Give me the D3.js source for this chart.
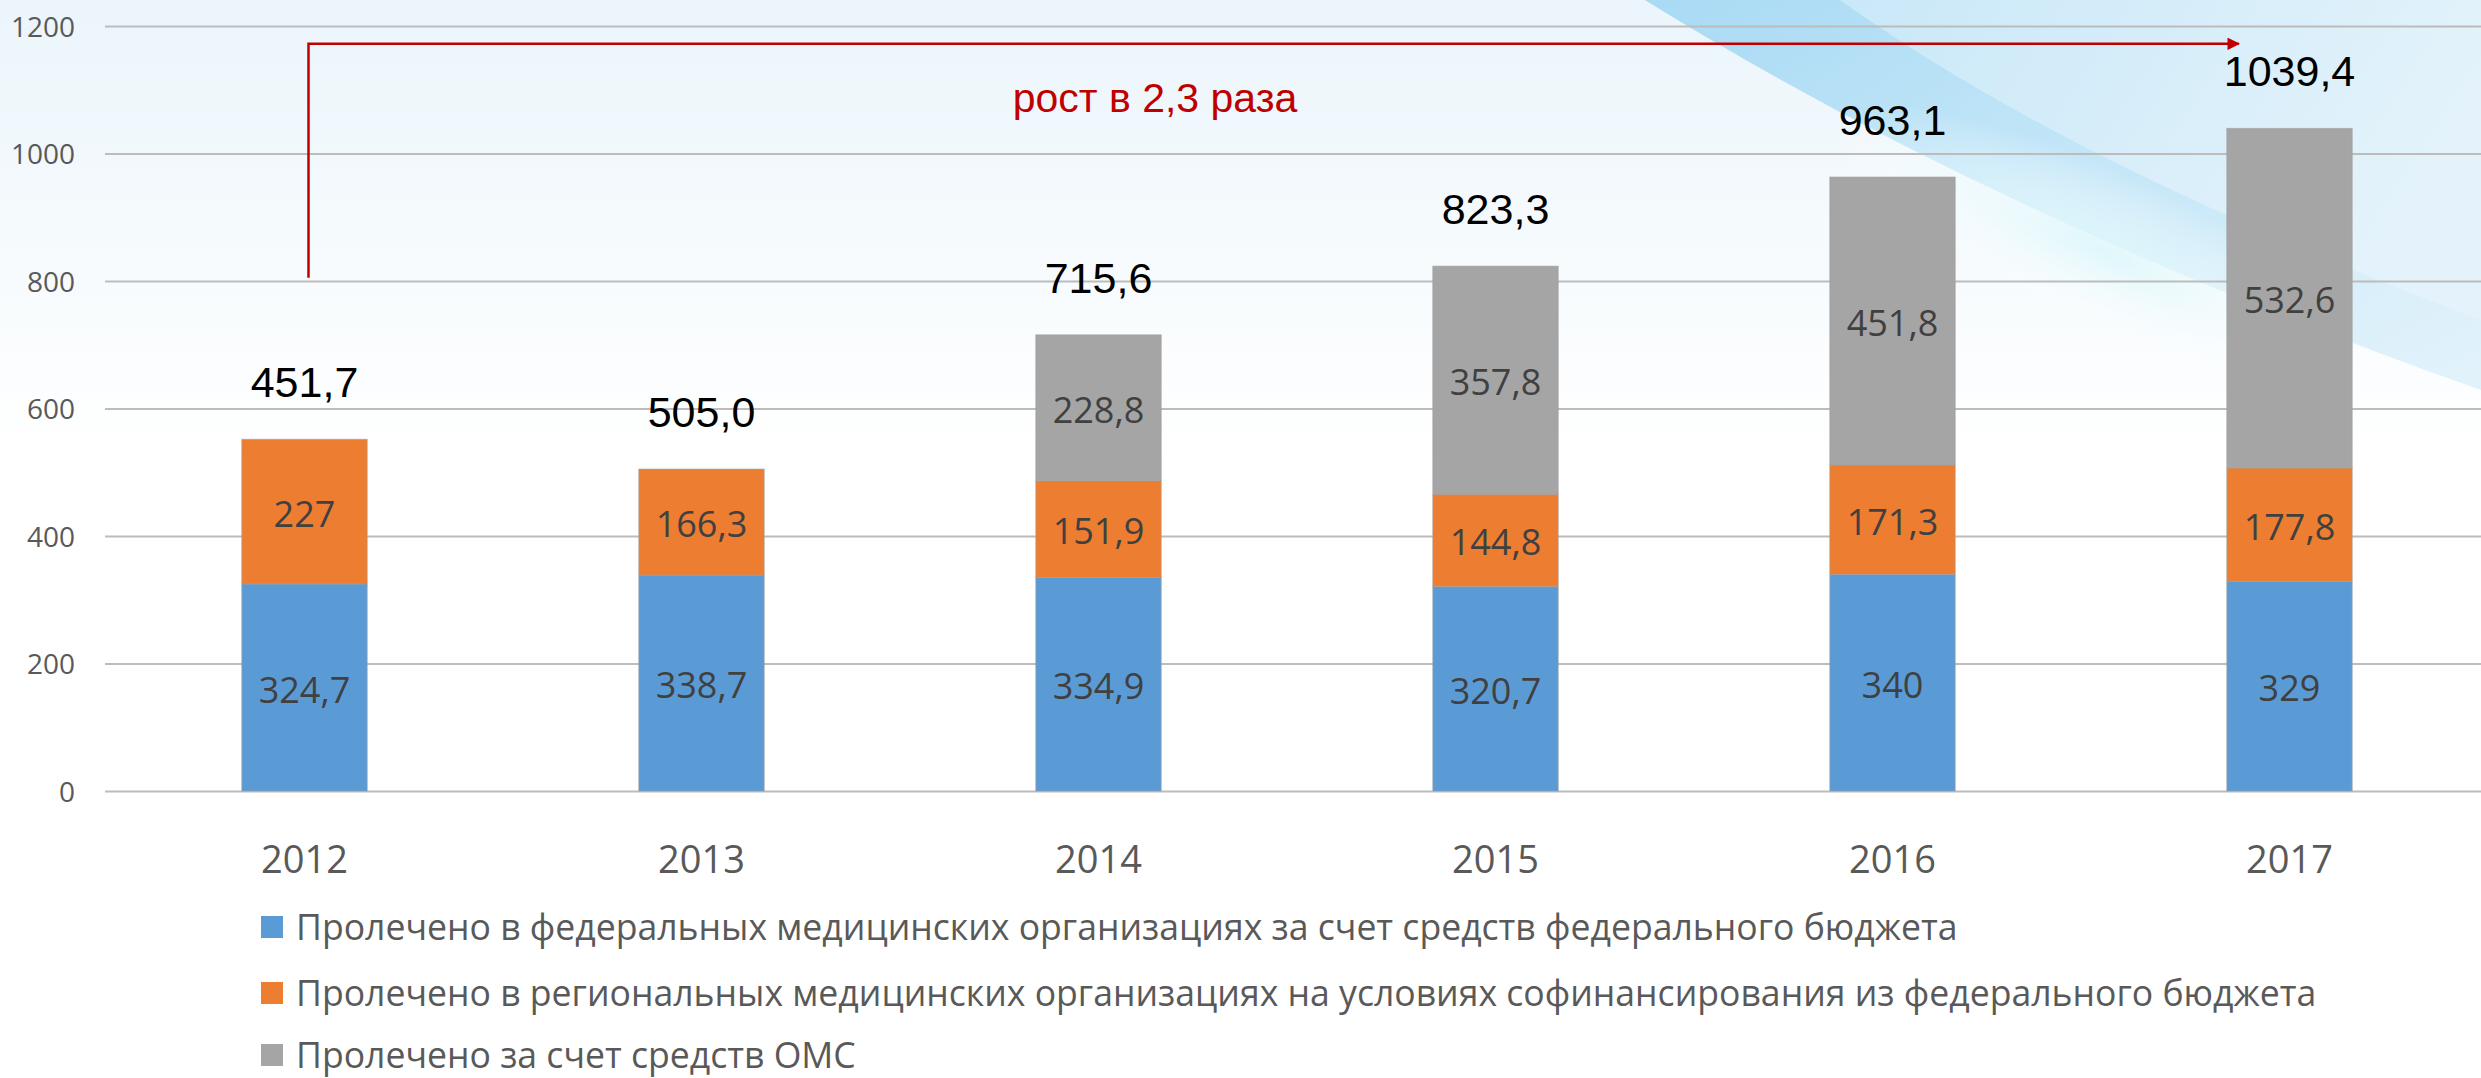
<!DOCTYPE html>
<html><head><meta charset="utf-8">
<script src="https://cdn.jsdelivr.net/npm/d3@7"></script>
<style>html,body{margin:0;padding:0;background:#fff;overflow:hidden}</style>
</head><body>
<svg id="chart" width="2481" height="1078"></svg>
<script>
// ---- data ----
const years = ["2012", "2013", "2014", "2015", "2016", "2017"];
const federal = [324.7, 338.7, 334.9, 320.7, 340, 329];
const regional = [227, 166.3, 151.9, 144.8, 171.3, 177.8];
const oms = [0, 0, 228.8, 357.8, 451.8, 532.6];
const totalLabels = ["451,7", "505,0", "715,6", "823,3", "963,1", "1039,4"];
const yTicks = [0, 200, 400, 600, 800, 1000, 1200];
const seriesKeys = ["federal", "regional", "oms"];
const seriesNames = [
  "Пролечено в федеральных медицинских организациях за счет средств федерального бюджета",
  "Пролечено в региональных медицинских организациях на условиях софинансирования из федерального бюджета",
  "Пролечено за счет средств ОМС"
];
const growthText = "рост в 2,3 раза";

// ---- layout / style ----
const W = 2481, H = 1078;
const colors = { federal: "#5b9bd5", regional: "#ed7d31", oms: "#a5a5a5" };
const svg = d3.select("#chart");
const defs = svg.append("defs");

// background
const bg = defs.append("linearGradient").attr("id", "bgGrad").attr("x1", 0).attr("y1", 0).attr("x2", 0).attr("y2", 1);
bg.append("stop").attr("offset", "0").attr("stop-color", "#ebf5fb");
bg.append("stop").attr("offset", "0.42").attr("stop-color", "#ffffff");
bg.append("stop").attr("offset", "1").attr("stop-color", "#ffffff");
svg.append("rect").attr("width", W).attr("height", H).attr("fill", "url(#bgGrad)");

const sw1 = defs.append("linearGradient").attr("id", "sw1").attr("x1", 0).attr("y1", 0).attr("x2", 1).attr("y2", 0.3);
sw1.append("stop").attr("offset", "0").attr("stop-color", "#c2e5f8");
sw1.append("stop").attr("offset", "0.5").attr("stop-color", "#d3ecf9");
sw1.append("stop").attr("offset", "1").attr("stop-color", "#e4f3fb");
svg.append("path")
  .attr("d", "M1645,0 Q2000,220 2481,390 L2481,0 Z")
  .attr("fill", "url(#sw1)");
const sw2 = defs.append("linearGradient").attr("id", "sw2").attr("x1", 0).attr("y1", 0).attr("x2", 1).attr("y2", 1);
sw2.append("stop").attr("offset", "0").attr("stop-color", "#a6d9f4").attr("stop-opacity", 0.9);
sw2.append("stop").attr("offset", "0.6").attr("stop-color", "#c0e5f7").attr("stop-opacity", 0.6);
sw2.append("stop").attr("offset", "1").attr("stop-color", "#dbf0fa").attr("stop-opacity", 0.3);
svg.append("path")
  .attr("d", "M1645,0 Q2000,220 2481,390 L2481,320 Q2070,165 1840,0 Z")
  .attr("fill", "url(#sw2)");
const sw3 = defs.append("radialGradient").attr("id", "sw3");
sw3.append("stop").attr("offset", "0").attr("stop-color", "#dcf7fb").attr("stop-opacity", 0.9);
sw3.append("stop").attr("offset", "1").attr("stop-color", "#ffffff").attr("stop-opacity", 0);
svg.append("ellipse").attr("cx", 2100).attr("cy", 250).attr("rx", 300).attr("ry", 80)
  .attr("transform", "rotate(25,2100,250)").attr("fill", "url(#sw3)");

// scales
const x = d3.scaleBand().domain(years).range([106, 2488]).paddingInner(0.684).paddingOuter(0.342);
const y = d3.scaleLinear().domain([0, 1200]).range([791, 26]);

// grid + y axis
const yAxis = d3.axisLeft(y).tickValues(yTicks).tickSize(-(W - 105)).tickFormat(d3.format("d"));
const gy = svg.append("g").attr("transform", "translate(105,0)").call(yAxis);
gy.select(".domain").remove();
gy.selectAll(".tick line").attr("stroke", "#bcbcbc").attr("stroke-width", 2);
gy.selectAll(".tick text")
  .attr("x", -30).attr("dy", "0.36em")
  .attr("fill", "#595959")
  .style("font-family", "'Open Sans', sans-serif").style("font-size", "28px");

// stacked data
const rows = years.map((yr, i) => ({ year: yr, federal: federal[i], regional: regional[i], oms: oms[i] }));
const stacked = d3.stack().keys(seriesKeys)(rows);

const fmt = v => String(v).replace(".", ",");

const layers = svg.append("g").selectAll("g").data(stacked).join("g")
  .attr("fill", d => colors[d.key]);
layers.selectAll("rect").data(d => d.filter(p => p[1] - p[0] > 0)).join("rect")
  .attr("x", d => x(d.data.year))
  .attr("width", x.bandwidth())
  .attr("y", d => y(d[1]))
  .attr("height", d => y(d[0]) - y(d[1]))
  .attr("stroke", "#a0a0a0").attr("stroke-width", 1).attr("stroke-opacity", 0.6);

// segment labels
const segLabels = svg.append("g")
  .style("font-family", "'Open Sans', sans-serif").style("font-size", "36px")
  .attr("fill", "#404040").attr("text-anchor", "middle");
stacked.forEach(layer => {
  segLabels.selectAll(null).data(layer.filter(p => p[1] - p[0] > 0)).join("text")
    .attr("x", d => x(d.data.year) + x.bandwidth() / 2)
    .attr("y", d => (y(d[0]) + y(d[1])) / 2 + 15)
    .text(d => fmt(d.data[layer.key]));
});

// totals
svg.append("g").selectAll("text").data(rows).join("text")
  .attr("x", d => x(d.year) + x.bandwidth() / 2)
  .attr("y", d => y(d.federal + d.regional + d.oms) - 42)
  .attr("text-anchor", "middle")
  .style("font-family", "'Liberation Sans', Arial, sans-serif").style("font-size", "43px")
  .attr("fill", "#000")
  .text((d, i) => totalLabels[i]);

// x axis labels
const xAxis = d3.axisBottom(x).tickSize(0);
const gx = svg.append("g").attr("transform", "translate(0,791)").call(xAxis);
gx.select(".domain").remove();
gx.selectAll(".tick text")
  .attr("y", 68).attr("dy", "0.36em")
  .attr("fill", "#595959")
  .style("font-family", "'Open Sans', sans-serif").style("font-size", "38px");

// growth annotation
defs.append("marker").attr("id", "arrow").attr("viewBox", "0 0 10 10")
  .attr("refX", 9).attr("refY", 5).attr("markerWidth", 6).attr("markerHeight", 5)
  .attr("markerUnits", "strokeWidth").attr("orient", "auto")
  .append("path").attr("d", "M0,0 L10,5 L0,10 Z").attr("fill", "#c00000");
const ax0 = x("2012") + x.bandwidth() / 2 + 4;
const ax1 = x("2017") + 12;
const ayTop = y(1172), ayBottom = y(805);
svg.append("path")
  .attr("d", `M${ax0},${ayBottom} L${ax0},${ayTop} L${ax1},${ayTop}`)
  .attr("fill", "none").attr("stroke", "#c00000").attr("stroke-width", 2.5)
  .attr("marker-end", "url(#arrow)");
svg.append("text")
  .attr("x", 1155).attr("y", 112).attr("text-anchor", "middle")
  .style("font-family", "'Liberation Sans', Arial, sans-serif").style("font-size", "41px")
  .attr("fill", "#c00000").text(growthText);

// legend
const legend = svg.append("g");
const legRows = [927, 993, 1055];
seriesKeys.forEach((k, i) => {
  legend.append("rect").attr("x", 261).attr("y", legRows[i] - 11).attr("width", 22).attr("height", 22).attr("fill", colors[k]);
  legend.append("text").attr("class", "legtext").attr("x", 296).attr("y", legRows[i]).attr("dy", "0.36em")
    .attr("fill", "#595959")
    .style("font-family", "'Open Sans', sans-serif").style("font-size", "30px")
    .text(seriesNames[i]);
});
// fit legend font to the reference width of the first row
const lt = legend.selectAll(".legtext").nodes();
const w1 = lt[0].getComputedTextLength();
const fs = 30 * 1662 / w1;
legend.selectAll(".legtext").style("font-size", fs + "px");
</script>
</body></html>
